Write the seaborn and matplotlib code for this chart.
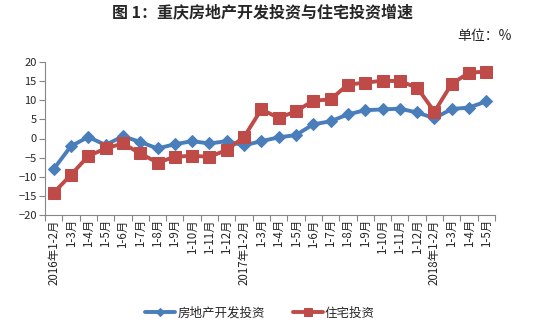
import matplotlib
matplotlib.use("Agg")
import matplotlib.pyplot as plt
import seaborn as sns
import pandas as pd
from matplotlib.ticker import FixedLocator

months = ["1-2月", "1-3月", "1-4月", "1-5月", "1-6月", "1-7月", "1-8月", "1-9月", "1-10月", "1-11月", "1-12月"]
categories = (["2016年1-2月"] + months[1:] + ["2017年1-2月"] + months[1:]
              + ["2018年1-2月", "1-3月", "1-4月", "1-5月"])

dev_invest = [-8.0, -2.0, 0.4, -1.7, 0.6, -0.9, -2.6, -1.5, -0.7, -1.3, -0.7,
              -1.8, -0.7, 0.3, 0.9, 3.7, 4.5, 6.3, 7.4, 7.6, 7.8, 6.8,
              5.3, 7.7, 8.1, 9.7]
res_invest = [-14.2, -9.5, -4.6, -2.6, -1.3, -3.9, -6.3, -4.8, -4.5, -4.8, -3.0,
              0.4, 7.6, 5.4, 7.1, 9.9, 10.2, 14.1, 14.6, 15.1, 15.0, 13.3,
              7.0, 14.3, 17.2, 17.5]

series_names = ["房地产开发投资", "住宅投资"]
title = "图 1：重庆房地产开发投资与住宅投资增速"
unit = "单位：%"

sns.set_theme(style="white")
plt.rcParams['font.family'] = ['Noto Sans CJK SC', 'DejaVu Sans']

df = pd.DataFrame({"idx": list(range(len(categories))), "dev": dev_invest, "res": res_invest})

fig = plt.figure(figsize=(5.46, 3.33), dpi=100)
ax = fig.add_axes([45/546, 1-215/333, 450/546, 153/333])

blue = "#4A7EBB"
red = "#BE4B48"
sns.lineplot(data=df, x="idx", y="dev", ax=ax, color=blue, lw=2.8, marker="D",
             markersize=6, markeredgecolor=blue, label=series_names[0])
sns.lineplot(data=df, x="idx", y="res", ax=ax, color=red, lw=2.8, marker="s",
             markersize=8, markeredgecolor=red, label=series_names[1])

ax.set_xlim(-0.5, len(categories) - 0.5)
ax.set_ylim(-20, 20)
ax.set_yticks(range(-20, 21, 5))
ax.set_xticks(range(len(categories)))
ax.set_xticklabels(categories, rotation=90, fontsize=8.3)
ax.xaxis.set_minor_locator(FixedLocator([i - 0.5 for i in range(len(categories) + 1)]))
ax.tick_params(axis='x', which='major', length=0, pad=3)
ax.tick_params(axis='x', which='minor', length=4, color="#868686", width=0.8, direction='out', bottom=True)
ax.tick_params(axis='y', length=4, color="#868686", width=0.8, direction='out', left=True, labelsize=8, pad=2)
ax.set_xlabel("")
ax.set_ylabel("")
for s in ["top", "right"]:
    ax.spines[s].set_visible(False)
for s in ["left", "bottom"]:
    ax.spines[s].set_color("#868686")
    ax.spines[s].set_linewidth(0.8)
ax.grid(False)

leg = ax.legend(loc="center", bbox_to_anchor=(260/546, 1-313/333), bbox_transform=fig.transFigure,
                ncol=2, frameon=False, fontsize=9, handlelength=2.4, columnspacing=2.2,
                handletextpad=0.2, markerscale=0.75)

fig.text(262/546, 1-13/333, title, ha="center", va="center", fontsize=11.5, fontweight="bold")
fig.text(512/546, 1-36/333, unit, ha="right", va="center", fontsize=10)

fig.savefig("out.png", dpi=100)
